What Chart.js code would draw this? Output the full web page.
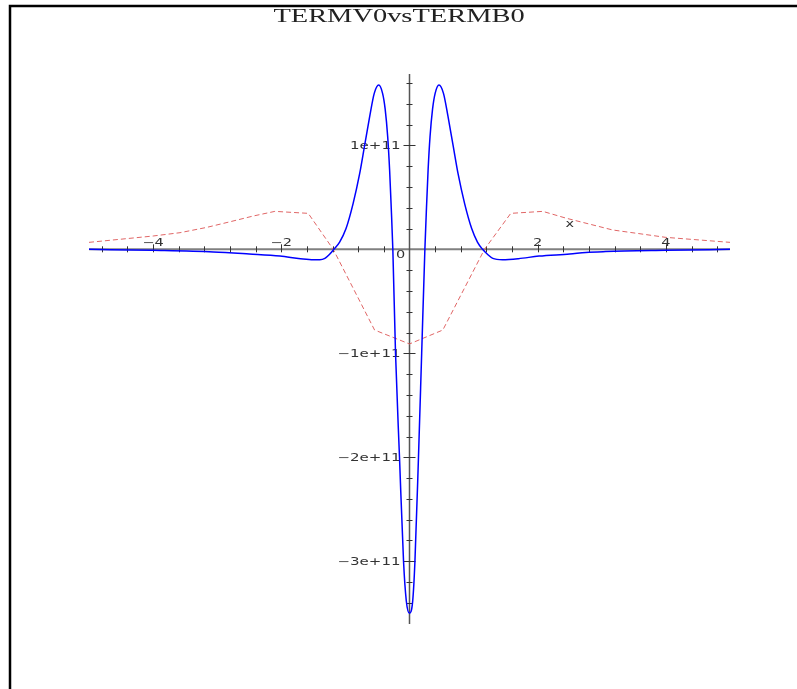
<!DOCTYPE html>
<html>
<head>
<meta charset="utf-8">
<script src="https://cdn.jsdelivr.net/npm/chart.js@4"></script>
<style>
  body { margin: 0; background: #fff; }
</style>
</head>
<body>
<canvas id="myChart" width="797" height="689"></canvas>
<script>
// chart title and axis label
const title = "TERMV0vsTERMB0";
const xName = "x";

// solid blue curve (TERMV0), y in units of 1e11
const blueX = [-5, -4, -3.06, -2.5, -2.02, -1.7, -1.5, -1.4, -1.32, -1.25, -1.18, -1.09, -0.99, -0.88, -0.78,
  -0.7, -0.62, -0.55, -0.48, -0.42, -0.38, -0.34, -0.31, -0.285, -0.26, -0.218, -0.156, -0.093, -0.05, 0,
  0.05, 0.085, 0.14, 0.19, 0.24, 0.265, 0.29, 0.32, 0.36, 0.4, 0.46, 0.53, 0.6, 0.68, 0.76, 0.86, 0.97, 1.06,
  1.14, 1.22, 1.3, 1.45, 1.7, 2.02, 2.5, 2.75, 3.06, 4, 5];
const blueY = [0, -0.01, -0.025, -0.045, -0.065, -0.09, -0.1, -0.1, -0.087, -0.05, 0, 0.07, 0.2, 0.44, 0.72,
  1.0, 1.28, 1.5, 1.58, 1.5, 1.35, 1.08, 0.76, 0.4, 0, -1.0, -2.0, -3.0, -3.38, -3.5,
  -3.38, -3.0, -2.0, -1.0, 0, 0.4, 0.76, 1.08, 1.35, 1.5, 1.58, 1.5, 1.28, 1.0, 0.72, 0.44, 0.2, 0.07,
  0, -0.05, -0.087, -0.1, -0.09, -0.065, -0.045, -0.03, -0.022, -0.01, 0];

// dashed red curve (TERMB0), y in units of 1e11
const redX = [-5, -4, -3.58, -3.17, -2.8, -2.44, -2.1, -1.58, -1.19, -0.545, 0, 0.52, 1.17, 1.58, 2.08, 2.44, 3.17, 4, 5];
const redY = [0.067, 0.128, 0.16, 0.21, 0.265, 0.32, 0.365, 0.346, 0, -0.776, -0.91, -0.776, 0, 0.346, 0.365, 0.3, 0.186, 0.115, 0.067];

// tick labels
const xTickValues = [-4, -2, 2, 4];
const yTickValues = [1, -1, -2, -3];
const yTickLabels = ["1e+11", "-1e+11", "-2e+11", "-3e+11"];

const unit = 1e11;

// turn the arrays into {x, y} points
function toPoints(xs, ys) {
  return xs.map((x, i) => ({ x: x, y: ys[i] * unit }));
}

// draw text stretched horizontally like the original plot
function stretchText(ctx, text, x, y, sx, align) {
  ctx.save();
  ctx.translate(x, y);
  ctx.scale(sx, 1);
  ctx.textAlign = align;
  ctx.fillText(text, 0, 0);
  ctx.restore();
}

// maple style axes through the origin, border and title
const mapleAxes = {
  id: 'mapleAxes',
  beforeDatasetsDraw(chart) {
    const ctx = chart.ctx;
    const xs = chart.scales.x;
    const ys = chart.scales.y;
    const x0 = xs.getPixelForValue(0);
    const y0 = ys.getPixelForValue(0);
    const area = chart.chartArea;

    ctx.save();
    // axis lines
    ctx.strokeStyle = '#808080';
    ctx.lineWidth = 2;
    ctx.beginPath();
    ctx.moveTo(area.left, y0);
    ctx.lineTo(area.right, y0);
    ctx.stroke();
    ctx.strokeStyle = '#555';
    ctx.lineWidth = 1.5;
    ctx.beginPath();
    ctx.moveTo(x0, area.top);
    ctx.lineTo(x0, area.bottom);
    ctx.stroke();

    // x ticks every 0.4
    ctx.strokeStyle = '#333';
    ctx.lineWidth = 1;
    for (let k = -12; k <= 12; k++) {
      if (k === 0) continue;
      const px = Math.round(xs.getPixelForValue(k * 0.4)) + 0.5;
      const major = k % 5 === 0;
      ctx.beginPath();
      ctx.moveTo(px, y0 - (major ? 5 : 3));
      ctx.lineTo(px, y0 + 3);
      ctx.stroke();
    }
    // y ticks every 0.2e11
    for (let k = -17; k <= 8; k++) {
      if (k === 0) continue;
      const py = Math.round(ys.getPixelForValue(k * 0.2 * unit)) + 0.5;
      const major = k % 5 === 0;
      ctx.beginPath();
      ctx.moveTo(x0 - (major ? 6 : 3), py);
      ctx.lineTo(x0 + (major ? 6 : 3), py);
      ctx.stroke();
    }

    // tick labels
    ctx.fillStyle = '#333';
    ctx.font = '10px "DejaVu Sans"';
    ctx.textBaseline = 'alphabetic';
    xTickValues.forEach(v => {
      const lbl = v < 0 ? '\u2212' + Math.abs(v) : String(v);
      stretchText(ctx, lbl, xs.getPixelForValue(v), y0 - 3, 1.45, 'center');
    });
    ctx.textBaseline = 'middle';
    yTickValues.forEach((v, i) => {
      const lbl = yTickLabels[i].replace('-', '\u2212');
      stretchText(ctx, lbl, x0 - 9, ys.getPixelForValue(v * unit) + 1, 1.5, 'right');
    });
    stretchText(ctx, '0', x0 - 9, y0 + 6, 1.45, 'center');
    stretchText(ctx, xName, xs.getPixelForValue(2.5), y0 - 25, 1.45, 'center');

    // title
    ctx.fillStyle = '#222';
    ctx.font = '18px "Liberation Serif"';
    ctx.textBaseline = 'alphabetic';
    stretchText(ctx, title, 399, 22, 1.58, 'center');

    // frame
    ctx.strokeStyle = '#000';
    ctx.lineWidth = 2.5;
    ctx.beginPath();
    ctx.moveTo(10, 700);
    ctx.lineTo(10, 6);
    ctx.lineTo(797, 6);
    ctx.stroke();
    ctx.restore();
  }
};

const ctx = document.getElementById('myChart').getContext('2d');
const myChart = new Chart(ctx, {
  type: 'line',
  data: {
    datasets: [{
      label: 'TERMV0',
      data: toPoints(blueX, blueY),
      borderColor: '#0000ff',
      borderWidth: 1.5,
      pointRadius: 0,
      cubicInterpolationMode: 'monotone',
      order: 0
    }, {
      label: 'TERMB0',
      data: toPoints(redX, redY),
      borderColor: '#e06666',
      borderWidth: 1,
      borderDash: [5, 3],
      pointRadius: 0,
      tension: 0,
      order: 1
    }]
  },
  options: {
    responsive: false,
    animation: false,
    layout: { padding: { left: 89, right: 67, top: 74, bottom: 65 } },
    scales: {
      x: { type: 'linear', min: -5, max: 5, display: false },
      y: { type: 'linear', min: -3.603 * unit, max: 1.686 * unit, display: false }
    },
    plugins: {
      legend: { display: false },
      title: { display: false },
      tooltip: { enabled: false }
    }
  },
  plugins: [mapleAxes]
});
</script>
</body>
</html>
